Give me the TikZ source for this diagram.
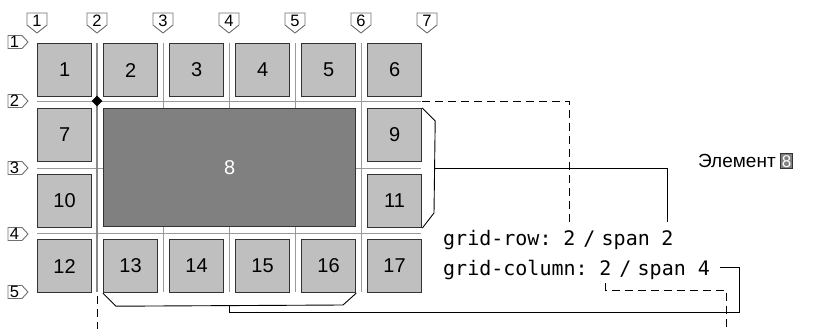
\documentclass[tikz,border=0pt]{standalone}
\usepackage{fontspec}
\setmainfont{Liberation Sans}
\newfontfamily\codefont{DejaVu Sans Mono}
\usetikzlibrary{shapes.geometric}
\definecolor{gridgray}{HTML}{9A9A9A}
\definecolor{gridgraydark}{HTML}{888888}
\definecolor{cellfill}{HTML}{BFBFBF}
\definecolor{cellborder}{HTML}{333333}
\definecolor{darkfill}{HTML}{808080}
\definecolor{markgray}{HTML}{707070}
\begin{document}
\begin{tikzpicture}[x=1pt,y=-1pt,
  gridln/.style={draw=gridgray, line width=1pt},
  cellbox/.style={draw=cellborder, fill=cellfill, line width=1.2pt, minimum width=54pt, minimum height=53pt, inner sep=0pt, anchor=north west, font=\fontsize{20}{24}\selectfont},
  markerbox/.style={draw=markgray, fill=white, line width=0.9pt},
  marktext/.style={font=\fontsize{16.5}{18}\selectfont, inner sep=0pt},
  connector/.style={draw=black, line width=0.9pt},
  dashedconn/.style={draw=black, line width=0.9pt, dash pattern=on 8pt off 5pt},
  code/.style={font=\codefont\fontsize{20}{22}\selectfont, anchor=base west, inner sep=0pt},
  codec/.style={font=\codefont\fontsize{20}{22}\selectfont, anchor=base, inner sep=0pt},
]
\useasboundingbox (0,0) rectangle (817,329);
% grid lines
\foreach \y in {101,168,233} \draw[gridln] (37,\y) -- (421,\y);
\foreach \x in {163,229,295,361} \draw[gridln] (\x,43) -- (\x,292);
\draw[gridln, draw=gridgraydark, line width=1.5pt] (97,43) -- (97,292);
% cells
\foreach \n/\x/\y in {1/37/43, 2/103/43, 3/169/43, 4/235/43, 5/301/43, 6/367/43,
  7/37/108, 9/367/108, 10/37/174, 11/367/174,
  12/37/239, 13/103/239, 14/169/239, 15/235/239, 16/301/239, 17/367/239}
  \node[cellbox] (c\n) at (\x,\y) {\n};
\node[cellbox, minimum width=252pt, minimum height=118pt, fill=darkfill, text=white] (c8) at (103,108) {8};
\node[diamond, fill=black, inner sep=0pt, minimum size=11pt] (corner) at (97,101) {};
% column markers
\foreach \i/\x in {1/37,2/97,3/163,4/229,5/295,6/361,7/427} {
  \draw[markerbox] (\x-10,13) -- (\x+10,13) -- (\x+10,25) -- (\x,33) -- (\x-10,25) -- cycle;
  \node[marktext] (cm\i) at (\x,21) {\i};
}
% row markers
\foreach \i/\y in {1/42,2/101,3/168,4/234,5/292} {
  \draw[markerbox] (8,\y-6.5) -- (22,\y-6.5) -- (28,\y) -- (22,\y+6.5) -- (8,\y+6.5) -- cycle;
  \node[marktext] (rm\i) at (14.5,\y) {\i};
}
% code text
\node[code] (gr) at (443,245) {grid-row:};
\node[codec] (rowstart) at (569.5,245) {2};
\node[codec] (rowslash) at (589.5,245) {/};
\node[code] (rowspanw) at (601.5,245) {span};
\node[codec] (rowspan) at (667.5,245) {2};
\node[code] (gc) at (443,275) {grid-column:};
\node[codec] (colstart) at (605.5,275) {2};
\node[codec] (colslash) at (625.5,275) {/};
\node[code] (colspanw) at (637.5,275) {span};
\node[codec] (colend) at (704,275) {4};
% element label
\node[font=\fontsize{19}{22}\selectfont, anchor=base west, inner sep=0pt] (el) at (698,167) {Элемент};
\node[draw=cellborder, fill=darkfill, text=white, line width=1pt, font=\fontsize{17}{20}\selectfont, inner sep=1.5pt, anchor=base west] (elbox) at ([xshift=4pt]el.base east) {8};
% connectors
\draw[connector] (c9.north east) -- ++(13,13) -- (434,213) -- (c11.south east);
\draw[connector] (434,168) -| ([yshift=8pt]rowspan.north);
\draw[connector] (c13.south west) -- ++(13,13) -- (343,305) -- (c16.south east);
\draw[connector] (229,305) -- (229,312) -- (739,312) |- ([xshift=10pt]colend.east);
\draw[dashedconn] (c9.north east |- corner) -| ([yshift=8pt]rowstart.north);
\draw[dashedconn] ([yshift=-8pt]colstart.south) |- (726,290) -- (726,329);
\draw[dashedconn] (97,296) -- (97,329);
\end{tikzpicture}
\end{document}
